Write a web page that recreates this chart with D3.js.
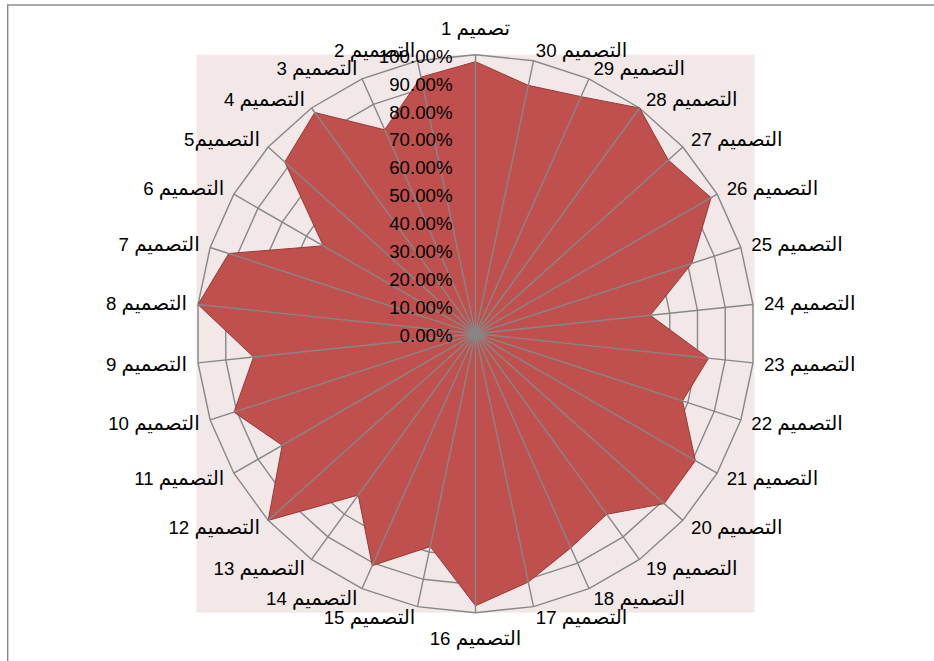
<!DOCTYPE html>
<html>
<head>
<meta charset="utf-8">
<script src="https://cdn.jsdelivr.net/npm/d3@7/dist/d3.min.js"></script>
<style>
  html, body { margin: 0; padding: 0; background: #ffffff; overflow: hidden; }
  svg { display: block; }
  text { font-family: "Liberation Sans", Arial, "DejaVu Sans", sans-serif; fill: #000; }
  .num { font-family: "Liberation Sans", Arial, sans-serif; }
</style>
</head>
<body>
<svg id="chart" width="934" height="661"></svg>
<script>
// Design names around the radar, in order (first at the top, then counter-clockwise)
const categories = [
  "تصميم 1", "التصميم 2", "التصميم 3", "التصميم 4", "التصميم5",
  "التصميم 6", "التصميم 7", "التصميم 8", "التصميم 9", "التصميم 10",
  "التصميم 11", "التصميم 12", "التصميم 13", "التصميم 14", "التصميم 15",
  "التصميم 16", "التصميم 17", "التصميم 18", "التصميم 19", "التصميم 20",
  "التصميم 21", "التصميم 22", "التصميم 23", "التصميم 24", "التصميم 25",
  "التصميم 26", "التصميم 27", "التصميم 28", "التصميم 29", "التصميم 30"
];

// Score of each design (share of 100%)
const values = [
  0.975, 0.94, 0.80, 0.98, 0.92,
  0.63, 0.93, 1.00, 0.80, 0.91,
  0.80, 1.00, 0.715, 0.91, 0.78,
  0.975, 0.91, 0.84, 0.80, 0.91,
  0.91, 0.78, 0.84, 0.63, 0.815,
  0.975, 0.93, 1.00, 0.93, 0.91
];

// Radial axis ticks
const tickValues = [0, 0.1, 0.2, 0.3, 0.4, 0.5, 0.6, 0.7, 0.8, 0.9, 1.0];

const svg = d3.select("#chart");
const cx = 475.5, cy = 333.7, R = 279;
const fontSize = 18.67;
const arabicSize = 19.9;
const gridColor = "#878787";

// Chart frame
svg.append("rect")
  .attr("x", 7.7).attr("y", 5).attr("width", 960).attr("height", 700)
  .attr("fill", "#ffffff").attr("stroke", gridColor).attr("stroke-width", 1.4);

// Plot area
svg.append("rect")
  .attr("x", cx - R).attr("y", cy - R).attr("width", 2 * R).attr("height", 2 * R)
  .attr("fill", "#F2E8E8");

const n = categories.length;
const angle = d3.scaleLinear().domain([0, n]).range([0, -2 * Math.PI]);
const r = d3.scaleLinear().domain([0, 1]).range([0, R]);

const g = svg.append("g").attr("transform", `translate(${cx},${cy})`);
const idx = d3.range(n);

// Polygonal grid rings
const ring = d3.lineRadial()
  .angle(i => angle(i))
  .curve(d3.curveLinearClosed);

g.append("g").selectAll("path")
  .data(tickValues.filter(t => t > 0))
  .join("path")
  .attr("d", t => ring.radius(() => r(t))(idx))
  .attr("fill", "none")
  .attr("stroke", gridColor)
  .attr("stroke-width", 1.4);

// Data area
const area = d3.lineRadial()
  .angle((d, i) => angle(i))
  .radius(d => r(d))
  .curve(d3.curveLinearClosed);

g.append("path")
  .datum(values)
  .attr("d", area)
  .attr("fill", "#C0504D")
  .attr("stroke", "#963A38")
  .attr("stroke-width", 1);

// Category spokes
g.append("g").selectAll("line")
  .data(idx)
  .join("line")
  .attr("x1", 0).attr("y1", 0)
  .attr("x2", i => r(1) * Math.sin(angle(i)))
  .attr("y2", i => -r(1) * Math.cos(angle(i)))
  .attr("stroke", gridColor)
  .attr("stroke-width", 1.4);

// Radial tick labels
const fmt = d3.format(".2%");
g.append("g").selectAll("text")
  .data(tickValues)
  .join("text")
  .attr("x", -23)
  .attr("y", t => -r(t) + 8)
  .attr("text-anchor", "end")
  .attr("font-size", fontSize)
  .text(t => fmt(t));

// Category labels: Arabic word and the design number in a Latin face
const gap = 11, halfH = 15, baseShift = 6.5;
const labels = g.append("g").selectAll("text")
  .data(idx)
  .join("text")
  .attr("font-size", fontSize)
  .each(function (i) {
    const a = angle(i);
    const ux = Math.sin(a), uy = -Math.cos(a);
    const ax = (R + gap) * ux, ay = (R + gap) * uy;
    const t = d3.select(this);
    if (Math.abs(ux) < 1e-6) {
      t.attr("text-anchor", "middle")
        .attr("x", ax)
        .attr("y", ay + (uy < 0 ? -halfH : halfH) + baseShift);
    } else {
      t.attr("text-anchor", ux < 0 ? "end" : "start")
        .attr("x", ax)
        .attr("y", ay + baseShift);
    }
  });

labels.each(function (i) {
  const m = categories[i].match(/^(.*?)(\s?\d+)$/);
  const t = d3.select(this);
  if (m) {
    t.append("tspan").attr("font-size", arabicSize).text(m[1]);
    t.append("tspan").attr("class", "num").text(m[2]);
  } else {
    t.text(categories[i]);
  }
});
</script>
</body>
</html>
